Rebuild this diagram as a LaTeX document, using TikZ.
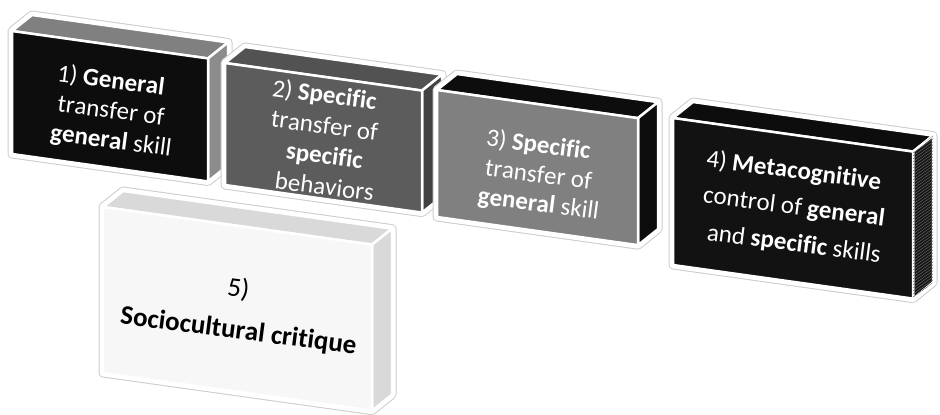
\documentclass[tikz,border=0pt]{standalone}
\usepackage{fontspec}
\setmainfont{Carlito}[Ligatures=NoCommon]
\usetikzlibrary{decorations.text}

\newcommand\boxslope{0.14}
\newcommand\boxdx{20}
\newcommand\boxdy{-16}
\newcommand\wfont{\fontsize{25}{30}\selectfont\color{white}}
\newcommand\kfont{\fontsize{27}{30}\selectfont\color{black}}
\tikzset{
  halo/.style={draw=black!20, line width=9pt, line join=round},
  haloin/.style={draw=white, fill=white, line width=7pt, line join=round},
  face/.style={draw=white, line width=2.5pt, line join=round},
}
% #1 name, #2 #3 front top left corner, #4 width, #5 height,
% #6 front colour, #7 top colour, #8 side colour
\newcommand\skillbox[8]{
  \coordinate (#1-ftl) at (#2, #3);
  \coordinate (#1-ftr) at (#2 + #4, #3 + \boxslope * #4);
  \coordinate (#1-fbr) at (#2 + #4, #3 + #5 + \boxslope * #4);
  \coordinate (#1-fbl) at (#2, #3 + #5);
  \coordinate (#1-btl) at (#2 + \boxdx, #3 + \boxdy);
  \coordinate (#1-btr) at (#2 + #4 + \boxdx, #3 + \boxslope * #4 + \boxdy);
  \coordinate (#1-bbr) at (#2 + #4 + \boxdx, #3 + #5 + \boxslope * #4 + \boxdy);
  \coordinate (#1-c) at (#2 + 0.5 * #4, #3 + 0.5 * #5 + 0.5 * \boxslope * #4);
  \draw[halo] (#1-ftl) -- (#1-btl) -- (#1-btr) -- (#1-bbr) -- (#1-fbr) -- (#1-fbl) -- cycle ;
  \draw[haloin] (#1-ftl) -- (#1-btl) -- (#1-btr) -- (#1-bbr) -- (#1-fbr) -- (#1-fbl) -- cycle ;
  \draw[face, fill=#7] (#1-ftl) -- (#1-btl) -- (#1-btr) -- (#1-ftr) -- cycle ;
  \draw[face, fill=#8] (#1-ftr) -- (#1-btr) -- (#1-bbr) -- (#1-fbr) -- cycle ;
  \draw[face, fill=#6] (#1-ftl) -- (#1-ftr) -- (#1-fbr) -- (#1-fbl) -- cycle ;
}
% one line of text on a front face, baseline #2 below the centre
\newcommand\faceline[3]{
  \path[decorate, decoration={text along path, text align=center, text={#3}}]
    ([shift={(-130, #2 - 16.9)}]#1-c) -- ([shift={(130, #2 + 16.9)}]#1-c) ;
}

\begin{document}
\begin{tikzpicture}[x=1pt, y=-1pt]
    \useasboundingbox (0, 0) rectangle (940, 415) ;
    \skillbox{one}{12}{31}{196}{123}{black!95}{black!50}{black!45}
    \faceline{one}{-18}{|\wfont|1) |\wfont\bfseries|General}
    \faceline{one}{12}{|\wfont|transfer of}
    \faceline{one}{42}{|\wfont\bfseries|general|\wfont| skill}
    \skillbox{two}{225}{63}{197}{122}{black!64}{black!68}{black!74}
    \faceline{two}{-35}{|\wfont|2) |\wfont\bfseries|Specific}
    \faceline{two}{-4}{|\wfont|transfer of}
    \faceline{two}{26}{|\wfont\bfseries|specific}
    \faceline{two}{57}{|\wfont|behaviors}
    \skillbox{three}{437}{90}{201}{127}{black!50}{black!95}{black!95}
    \faceline{three}{-15}{|\wfont|3) |\wfont\bfseries|Specific}
    \faceline{three}{15}{|\wfont|transfer of}
    \faceline{three}{44}{|\wfont\bfseries|general|\wfont| skill}
    \skillbox{four}{673}{118}{240}{147}{black!93}{black!95}{black!92}
    % stripes on the side of box 4
    \begin{scope}
      \clip (four-ftr) -- (four-btr) -- (four-bbr) -- (four-fbr) -- cycle ;
      \foreach \k in {0, 3, ..., 180}
        \draw[black!60, line width=0.5pt] (913, 150 + \k) -- ++ (24, -17) ;
    \end{scope}
    \faceline{four}{-30}{|\wfont|4) |\wfont\bfseries|Metacognitive}
    \faceline{four}{6}{|\wfont|control of |\wfont\bfseries|general}
    \faceline{four}{43}{|\wfont|and |\wfont\bfseries|specific|\wfont| skills}
    \skillbox{five}{103}{207}{269}{166}{black!3}{black!15}{black!15}
    \faceline{five}{-12}{|\kfont|5)}
    \faceline{five}{30}{|\kfont\bfseries|Sociocultural critique}
\end{tikzpicture}
\end{document}
